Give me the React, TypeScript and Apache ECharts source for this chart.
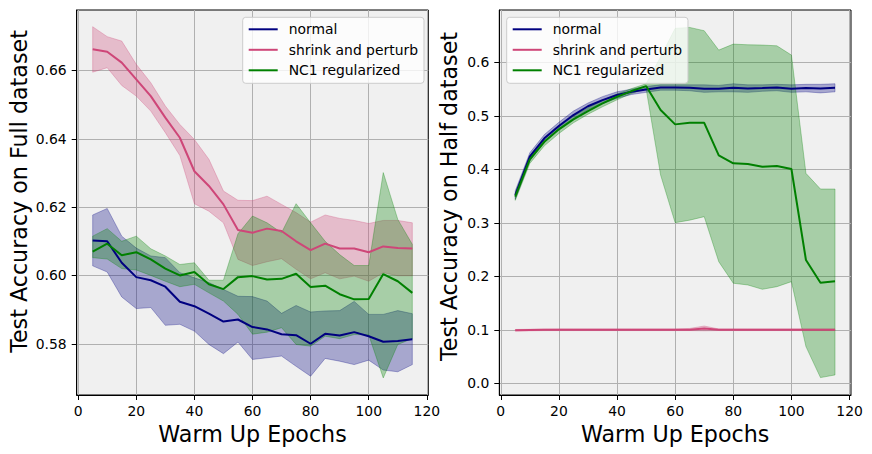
import React, { useEffect, useRef } from "react";
import * as echarts from "echarts";

const epochs = [5, 10, 15, 20, 25, 30, 35, 40, 45, 50, 55, 60, 65, 70, 75, 80, 85, 90, 95, 100, 105, 110, 115];
const seriesNames = ["normal", "shrink and perturb", "NC1 regularized"];
const xTicks = [0, 20, 40, 60, 80, 100, 120];
const fullTicks = [0.58, 0.6, 0.62, 0.64, 0.66];
const halfTicks = [0, 0.1, 0.2, 0.3, 0.4, 0.5, 0.6];

// Full dataset
const fullNormal = [0.6102, 0.61, 0.6037, 0.5995, 0.5986, 0.5967, 0.5923, 0.591, 0.5888, 0.5865, 0.5871, 0.5849, 0.5842, 0.5828, 0.5825, 0.58, 0.5829, 0.5824, 0.5834, 0.5822, 0.5806, 0.5808, 0.5813];
const fullNormalHi = [0.6177, 0.6196, 0.6115, 0.608, 0.6057, 0.6052, 0.6008, 0.5993, 0.5979, 0.5959, 0.5939, 0.5938, 0.5925, 0.5889, 0.5912, 0.5893, 0.5896, 0.5897, 0.5924, 0.5886, 0.5886, 0.5897, 0.5888];
const fullNormalLo = [0.6028, 0.601, 0.5937, 0.5903, 0.5906, 0.5854, 0.5857, 0.5837, 0.5798, 0.5771, 0.5805, 0.5754, 0.5759, 0.5764, 0.5734, 0.5705, 0.5757, 0.5749, 0.5739, 0.5752, 0.5723, 0.5718, 0.5739];

const fullShrink = [0.6662, 0.6655, 0.6623, 0.6574, 0.6525, 0.6462, 0.6403, 0.6305, 0.6262, 0.6208, 0.6133, 0.6125, 0.6137, 0.613, 0.61, 0.6074, 0.6093, 0.6079, 0.6079, 0.6068, 0.6085, 0.608, 0.6079];
const fullShrinkHi = [0.6728, 0.6699, 0.6686, 0.6618, 0.6564, 0.6496, 0.6442, 0.6398, 0.634, 0.6247, 0.622, 0.6219, 0.6232, 0.6208, 0.6184, 0.6156, 0.6177, 0.6167, 0.6161, 0.6152, 0.6161, 0.6161, 0.6154];
const fullShrinkLo = [0.6595, 0.6608, 0.6556, 0.6525, 0.6481, 0.6418, 0.6351, 0.621, 0.6188, 0.6154, 0.6047, 0.6029, 0.604, 0.6049, 0.6018, 0.599, 0.6008, 0.599, 0.5998, 0.5983, 0.6008, 0.5999, 0.5999];

const fullNc1 = [0.607, 0.6093, 0.6059, 0.6068, 0.6047, 0.602, 0.6, 0.601, 0.5974, 0.596, 0.5995, 0.5998, 0.5988, 0.599, 0.6005, 0.5966, 0.597, 0.5945, 0.593, 0.5931, 0.6004, 0.5983, 0.5949];
const fullNc1Hi = [0.6115, 0.6137, 0.61, 0.6115, 0.6078, 0.6057, 0.6032, 0.6037, 0.5986, 0.5986, 0.6122, 0.6174, 0.6154, 0.6125, 0.621, 0.6154, 0.61, 0.6061, 0.6029, 0.6029, 0.6301, 0.6164, 0.6091];
const fullNc1Lo = [0.6052, 0.6048, 0.602, 0.6016, 0.6, 0.5983, 0.5967, 0.5974, 0.5949, 0.5925, 0.5886, 0.5828, 0.5834, 0.5847, 0.5798, 0.5793, 0.5822, 0.5815, 0.5827, 0.5826, 0.57, 0.5798, 0.5815];

// Half dataset
const halfNormal = [0.352, 0.4236, 0.458, 0.481, 0.5015, 0.518, 0.5295, 0.539, 0.545, 0.5495, 0.553, 0.553, 0.5525, 0.5507, 0.5507, 0.5525, 0.5514, 0.552, 0.553, 0.5507, 0.552, 0.551, 0.5525];
const halfNormalHi = [0.36, 0.431, 0.465, 0.488, 0.509, 0.524, 0.536, 0.545, 0.55, 0.555, 0.558, 0.558, 0.558, 0.558, 0.557, 0.56, 0.558, 0.558, 0.559, 0.558, 0.559, 0.559, 0.56];
const halfNormalLo = [0.344, 0.416, 0.451, 0.474, 0.494, 0.512, 0.523, 0.533, 0.54, 0.544, 0.548, 0.548, 0.547, 0.544, 0.545, 0.545, 0.544, 0.546, 0.547, 0.544, 0.545, 0.543, 0.545];

const halfShrink = [0.099, 0.0995, 0.0998, 0.1, 0.1, 0.1, 0.1, 0.1, 0.1, 0.1, 0.1, 0.1, 0.1, 0.1025, 0.1, 0.1, 0.1, 0.1, 0.1, 0.1, 0.1, 0.1, 0.1];
const halfShrinkHi = [0.1005, 0.101, 0.1012, 0.1015, 0.1015, 0.1015, 0.1015, 0.1015, 0.1015, 0.1015, 0.1015, 0.1015, 0.1025, 0.107, 0.1015, 0.1015, 0.1015, 0.1015, 0.1015, 0.1015, 0.1015, 0.1015, 0.1015];
const halfShrinkLo = [0.0975, 0.098, 0.0984, 0.0985, 0.0985, 0.0985, 0.0985, 0.0985, 0.0985, 0.0985, 0.0985, 0.0985, 0.0985, 0.098, 0.0985, 0.0985, 0.0985, 0.0985, 0.0985, 0.0985, 0.0985, 0.0985, 0.0985];

const halfNc1 = [0.349, 0.4187, 0.4516, 0.4748, 0.4935, 0.509, 0.5233, 0.5358, 0.5464, 0.5557, 0.5109, 0.4841, 0.487, 0.487, 0.4262, 0.4112, 0.41, 0.405, 0.4062, 0.4006, 0.2305, 0.188, 0.1906];
const halfNc1Hi = [0.356, 0.426, 0.459, 0.482, 0.5, 0.515, 0.529, 0.541, 0.551, 0.56, 0.6105, 0.6636, 0.6654, 0.6592, 0.623, 0.6342, 0.633, 0.6324, 0.631, 0.6137, 0.3925, 0.3632, 0.3632];
const halfNc1Lo = [0.342, 0.411, 0.444, 0.467, 0.487, 0.503, 0.517, 0.53, 0.542, 0.551, 0.3893, 0.3003, 0.305, 0.3115, 0.2274, 0.187, 0.1838, 0.1757, 0.1806, 0.19, 0.0685, 0.0105, 0.0155];

const FONT = "DejaVu Sans";
const colors = ["#000080", "#ce4678", "#008000"];
const bandColors = ["rgba(0,0,128,0.3)", "rgba(206,70,120,0.3)", "rgba(0,128,0,0.3)"];

export default function App() {
  const ref = useRef<HTMLDivElement>(null);

  useEffect(() => {
    if (!ref.current) return;
    const chart = echarts.init(ref.current, undefined, { renderer: "svg" });

    const panels = [
      {
        means: [fullNormal, fullShrink, fullNc1],
        his: [fullNormalHi, fullShrinkHi, fullNc1Hi],
        los: [fullNormalLo, fullShrinkLo, fullNc1Lo],
      },
      {
        means: [halfNormal, halfShrink, halfNc1],
        his: [halfNormalHi, halfShrinkHi, halfNc1Hi],
        los: [halfNormalLo, halfShrinkLo, halfNc1Lo],
      },
    ];

    const series: any[] = [];
    panels.forEach((p, g) => {
      for (let k = 0; k < 3; k++) {
        const hi = p.his[k];
        const lo = p.los[k];
        series.push({
          type: "custom",
          xAxisIndex: g,
          yAxisIndex: g,
          silent: true,
          z: 2,
          data: epochs.map((x, i) => [x, lo[i], hi[i]]),
          encode: { x: 0, y: [1, 2] },
          renderItem: (params: any, api: any) => {
            if (params.dataIndex !== 0) return null;
            const top = epochs.map((x, i) => api.coord([x, hi[i]]));
            const bot = epochs.map((x, i) => api.coord([x, lo[i]])).reverse();
            return {
              type: "polygon",
              shape: { points: top.concat(bot) },
              style: { fill: bandColors[k], stroke: bandColors[k], lineWidth: 1 },
            };
          },
        });
      }
      for (let k = 0; k < 3; k++) {
        const m = p.means[k];
        series.push({
          type: "line",
          name: seriesNames[k],
          xAxisIndex: g,
          yAxisIndex: g,
          z: 3,
          symbol: "none",
          data: epochs.map((x, i) => [x, m[i]]),
          lineStyle: { color: colors[k], width: 2 },
          itemStyle: { color: colors[k] },
        });
      }
    });

    const gridBase = {
      top: 10,
      height: 385,
      show: true,
      backgroundColor: "#f0f0f0",
      borderColor: "#000",
      borderWidth: 1,
    };

    const xAxisOf = (g: number) => ({
      type: "value",
      gridIndex: g,
      min: -0.5,
      max: 120.5,
      name: "Warm Up Epochs",
      nameLocation: "middle",
      nameGap: 25,
      nameTextStyle: { fontSize: 22.2, color: "#000", fontFamily: FONT },
      axisLine: { show: true, onZero: false, lineStyle: { color: "#000", width: 1 } },
      axisTick: { show: true, length: 5, customValues: xTicks, lineStyle: { color: "#000", width: 1 } },
      axisLabel: {
        customValues: xTicks,
        margin: 9,
        color: "#000",
        fontSize: 13.9,
        fontFamily: FONT,
        formatter: (v: number) => String(Math.round(v)),
      },
      splitLine: { show: true, lineStyle: { color: "#b0b0b0", width: 1 } },
    });

    const yAxisOf = (g: number) => ({
      type: "value",
      gridIndex: g,
      min: g === 0 ? 0.565 : -0.022,
      max: g === 0 ? 0.6777 : 0.698,
      name: g === 0 ? "Test Accuracy on Full dataset" : "Test Accuracy on Half dataset",
      nameLocation: "middle",
      nameGap: g === 0 ? 47 : 39,
      nameTextStyle: {
        fontSize: 22.2,
        color: "#000",
        fontFamily: FONT,
        padding: g === 0 ? [0, 0, 0, 22] : [0, 0, 0, 12],
      },
      axisLine: { show: true, onZero: false, lineStyle: { color: "#000", width: 1 } },
      axisTick: { show: true, length: 5, customValues: g === 0 ? fullTicks : halfTicks, lineStyle: { color: "#000", width: 1 } },
      axisLabel: {
        customValues: g === 0 ? fullTicks : halfTicks,
        margin: 10,
        color: "#000",
        fontSize: 13.9,
        fontFamily: FONT,
        formatter: (v: number) => (g === 0 ? v.toFixed(2) : v.toFixed(1)),
      },
      splitLine: { show: true, lineStyle: { color: "#b0b0b0", width: 1 } },
    });

    const legendBase = {
      orient: "vertical",
      top: 17.3,
      data: seriesNames,
      itemWidth: 29,
      itemHeight: 14,
      itemGap: 6.5,
      padding: [5, 6, 6, 5],
      backgroundColor: "rgba(255,255,255,0.8)",
      borderColor: "#cccccc",
      borderWidth: 1,
      borderRadius: 3,
      selectedMode: false,
      itemStyle: { opacity: 0 },
      lineStyle: { width: 2 },
      textStyle: { fontSize: 13.9, fontFamily: FONT, color: "#000", padding: [0, 0, 0, 6] },
    };

    chart.setOption({
      animation: false,
      textStyle: { fontFamily: FONT },
      grid: [
        { ...gridBase, left: 76.7, width: 351.6 },
        { ...gridBase, left: 499.3, width: 351.7 },
      ],
      xAxis: [xAxisOf(0), xAxisOf(1)],
      yAxis: [yAxisOf(0), yAxisOf(1)],
      legend: [
        { ...legendBase, left: 242.7 },
        { ...legendBase, left: 506.7 },
      ],
      series,
    });

    return () => chart.dispose();
  }, []);

  return (
    <div
      ref={ref}
      style={{ position: "fixed", left: 0, top: 0, width: 872, height: 454, background: "#fff" }}
    />
  );
}
